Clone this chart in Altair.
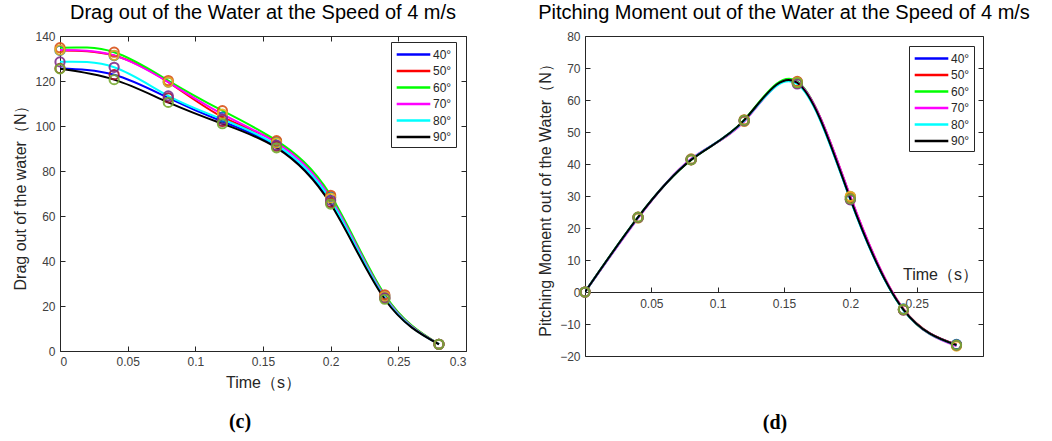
import altair as alt
import pandas as pd

# ---------------- data ----------------
time_s = [0.0, 0.04, 0.08, 0.12, 0.16, 0.20, 0.24, 0.28]
angles = ["40°", "50°", "60°", "70°", "80°", "90°"]

# Drag out of the water (N)
drag_40 = [125.6, 122.8, 112.5, 102.0, 91.0, 66.0, 23.5, 3.0]
drag_50 = [133.6, 131.3, 119.5, 104.0, 93.0, 68.5, 24.5, 3.0]
drag_60 = [134.8, 132.8, 120.2, 106.8, 93.5, 69.2, 25.0, 3.0]
drag_70 = [133.8, 131.4, 119.5, 105.3, 92.5, 68.0, 24.2, 3.0]
drag_80 = [128.5, 126.1, 113.4, 103.0, 91.5, 67.0, 23.6, 3.0]
drag_90 = [125.4, 120.6, 110.5, 101.0, 90.3, 65.3, 23.0, 3.0]

# Pitching moment out of the water (N)
moment_40 = [0.0, 23.3, 41.4, 53.6, 65.3, 29.0, -5.5, -16.5]
moment_50 = [0.0, 23.2, 41.5, 53.4, 65.6, 29.8, -5.3, -16.4]
moment_60 = [0.0, 23.4, 41.3, 53.8, 65.8, 29.6, -5.6, -16.7]
moment_70 = [0.0, 23.1, 41.6, 53.3, 65.5, 29.9, -5.4, -16.9]
moment_80 = [0.0, 23.3, 41.4, 53.5, 65.0, 28.8, -5.6, -16.6]
moment_90 = [0.0, 23.4, 41.3, 53.7, 65.4, 29.1, -5.5, -16.6]

drag_x_ticks = [0, 0.05, 0.1, 0.15, 0.2, 0.25, 0.3]
drag_y_ticks = [0, 20, 40, 60, 80, 100, 120, 140]
moment_x_ticks = [0.05, 0.1, 0.15, 0.2, 0.25]
moment_y_ticks = [-20, -10, 0, 10, 20, 30, 40, 50, 60, 70, 80]

# ---------------- styles ----------------
line_colors = ["#0000FF", "#FF0000", "#00FF00", "#FF00FF", "#00FFFF", "#000000"]
marker_colors = ["#A2142F", "#0072BD", "#D95319", "#EDB120", "#7E2F8E", "#77AC30"]
FONT = "Liberation Sans"
AX = "#262626"
LAB = "#404040"


def long_df(series):
    rows = []
    for ang, mc, vals in zip(angles, marker_colors, series):
        for t, v in zip(time_s, vals):
            rows.append({"t": t, "v": v, "angle": ang, "mcol": mc})
    return pd.DataFrame(rows)


drag_df = long_df([drag_40, drag_50, drag_60, drag_70, drag_80, drag_90])
moment_df = long_df([moment_40, moment_50, moment_60, moment_70, moment_80, moment_90])


def tick_axis(orient, offset, values):
    return alt.Axis(orient=orient, offset=offset, values=values, labels=False,
                    domain=False, ticks=True, tickSize=5, tickColor=AX,
                    tickWidth=1, grid=False, title=None)


def panel(df, title, ytitle, ydom, xvals, yvals, W, H, legx, legy,
          caption, capx, capy, zero_axis=False):
    xs = alt.Scale(domain=[0, 0.3], nice=False, zero=False)
    ys = alt.Scale(domain=ydom, nice=False, zero=False)
    legend = alt.Legend(title=None, orient="none", legendX=legx, legendY=legy,
                        symbolType="M-2.4,0H2.4", symbolSize=196,
                        symbolStrokeWidth=2.5, symbolOffset=10,
                        labelFont=FONT, labelFontSize=12, labelColor=AX,
                        labelOffset=11, rowPadding=1.5, padding=4,
                        strokeColor=AX, fillColor="white")
    if zero_axis:
        zero_px = H * (ydom[1] - 0) / (ydom[1] - ydom[0])
        main_x = alt.Axis(orient="bottom", offset=zero_px - H, values=xvals,
                          format=".2~f", labelFont=FONT, labelFontSize=12,
                          labelColor=LAB, labelPadding=6, ticks=False,
                          domain=True, domainColor=AX, domainWidth=1,
                          grid=False, title="Time（s）", titleFont=FONT,
                          titleFontSize=16, titleFontWeight="normal",
                          titleColor=AX, titleX=355, titleY=-13,
                          titleBaseline="alphabetic", titleAlign="center")
        inner_x = tick_axis("top", -zero_px, xvals)
        top_x = None
    else:
        main_x = alt.Axis(orient="bottom", values=xvals, format=".2~f",
                          labelFont=FONT, labelFontSize=12, labelColor=LAB,
                          labelPadding=5, ticks=False, domain=False, grid=False,
                          title="Time（s）", titleFont=FONT, titleFontSize=16,
                          titleFontWeight="normal", titleColor=AX, titlePadding=7)
        inner_x = tick_axis("top", -H, xvals)
        top_x = tick_axis("bottom", -H, xvals)
    main_y = alt.Axis(orient="left", values=yvals, labelFont=FONT, labelFontSize=12,
                      labelColor=LAB, labelPadding=5, ticks=False, domain=False,
                      grid=False, title=ytitle, titleFont=FONT, titleFontSize=16,
                      titleFontWeight="normal", titleColor=AX, titlePadding=6)
    inner_y = tick_axis("right", -W, yvals)
    right_y = tick_axis("left", -W, yvals)

    base = alt.Chart(df)
    lines = base.mark_line(interpolate="natural", strokeWidth=2, clip=True).encode(
        x=alt.X("t:Q", scale=xs, axis=main_x),
        y=alt.Y("v:Q", scale=ys, axis=main_y),
        color=alt.Color("angle:N", scale=alt.Scale(domain=angles, range=line_colors),
                        legend=legend),
    )
    pts = base.mark_point(shape="circle", filled=False, size=85, strokeWidth=2,
                          opacity=0.9).encode(
        x=alt.X("t:Q", scale=xs, axis=inner_x),
        y=alt.Y("v:Q", scale=ys, axis=inner_y),
        stroke=alt.Stroke("mcol:N", scale=None),
    )
    ghost = base.mark_point(opacity=0, size=1).encode(
        x=alt.X("t:Q", scale=xs, axis=top_x),
        y=alt.Y("v:Q", scale=ys, axis=right_y),
    )
    cap = alt.Chart(pd.DataFrame({"c": [caption]})).mark_text(
        font="Liberation Serif", fontWeight="bold", fontSize=20, color="black",
        align="center", baseline="middle").encode(
        text="c:N", x=alt.value(capx), y=alt.value(capy))
    return alt.layer(lines, pts, ghost, cap).resolve_axis(
        x="independent", y="independent").properties(
        width=W, height=H,
        title=alt.TitleParams(title, font=FONT, fontSize=20, fontWeight="normal",
                              color="black", frame="group", anchor="middle",
                              offset=7))


left = panel(drag_df, "Drag out of the Water at the Speed of 4 m/s",
             "Drag out of the water（N）", [0, 140], drag_x_ticks, drag_y_ticks,
             406, 315, 331, 6, "(c)", 180, 386)
right = panel(moment_df, "Pitching Moment out of the Water at the Speed of 4 m/s",
              "Pitching Moment out of the Water（N）", [-20, 80], moment_x_ticks,
              moment_y_ticks, 398, 320, 324, 10, "(d)", 190, 387, zero_axis=True)

chart = alt.hconcat(left, right, spacing=70).resolve_scale(
    color="independent").resolve_legend(color="independent").configure(
    padding={"left": 12, "top": 2, "right": 5, "bottom": 5},
    background="white",
).configure_view(stroke=AX, strokeWidth=1)

chart.save("out.html", embed_options={"renderer": "svg", "actions": False})
